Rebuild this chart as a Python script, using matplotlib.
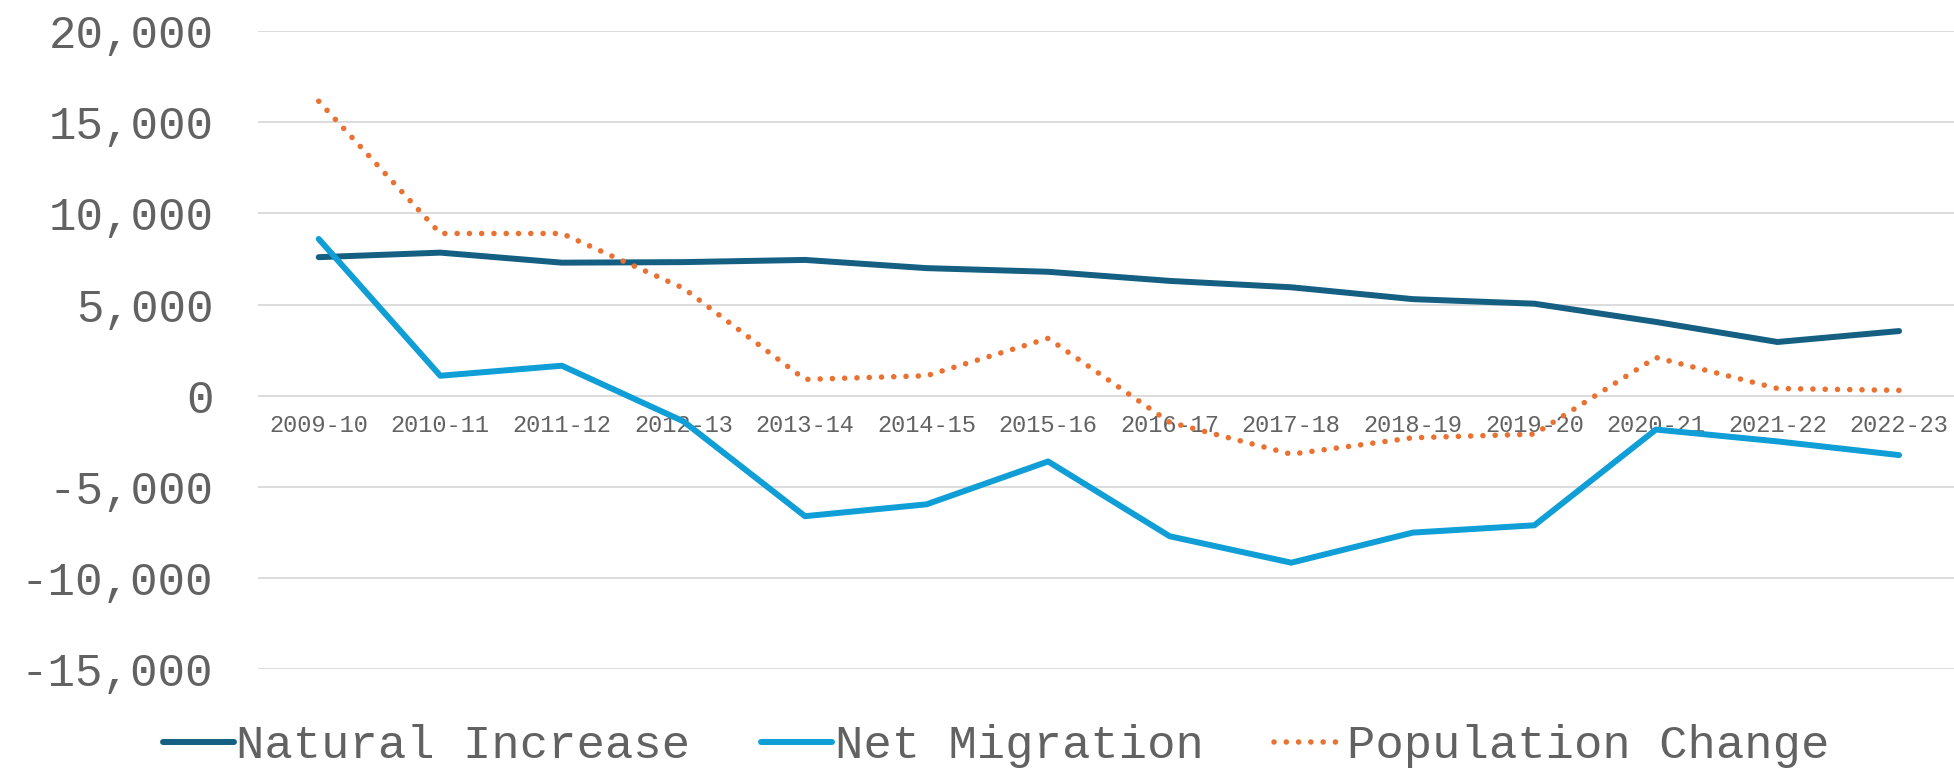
import matplotlib.pyplot as plt
from matplotlib.ticker import FuncFormatter

# Data
years = ["2009-10", "2010-11", "2011-12", "2012-13", "2013-14", "2014-15", "2015-16",
         "2016-17", "2017-18", "2018-19", "2019-20", "2020-21", "2021-22", "2022-23"]
natural_increase = [7600, 7850, 7300, 7330, 7450, 7000, 6800,
                    6300, 5950, 5300, 5050, 4050, 2950, 3550]
net_migration = [8600, 1100, 1650, -1400, -6600, -5950, -3600,
                 -7700, -9150, -7500, -7100, -1850, -2500, -3250]
population_change = [16150, 8900, 8900, 5900, 900, 1100, 3150,
                     -1450, -3200, -2300, -2100, 2100, 400, 300]

text_color = "#626262"
grid_color = "#D9D9D9"

plt.rcParams['font.family'] = ['Liberation Mono', 'DejaVu Sans Mono']

fig = plt.figure(figsize=(19.54, 7.68), dpi=100)
ax = fig.add_axes([0.132, 0.1284, 0.871, 0.8312])

x = list(range(len(years)))
ax.plot(x, natural_increase, color="#156082", lw=4.3, label="Natural Increase",
        solid_capstyle="round", solid_joinstyle="round", zorder=3)
ax.plot(x, net_migration, color="#0F9ED5", lw=4.3, label="Net Migration",
        solid_capstyle="round", solid_joinstyle="round", zorder=3)
ax.plot(x, population_change, color="#E97132", lw=4.0, label="Population Change",
        linestyle=(0, (0.01, 2.2)), dash_capstyle="round", zorder=3)

# axes / grid
ax.set_xlim(-0.5, len(years) - 0.5)
ax.set_ylim(-15000, 20000)
ax.set_yticks(range(-15000, 20001, 5000))
ax.yaxis.set_major_formatter(FuncFormatter(lambda v, p: f"{int(v):,}"))
ax.grid(axis="y", color=grid_color, lw=1.3)
ax.set_axisbelow(True)
for s in ["top", "right", "left"]:
    ax.spines[s].set_visible(False)
ax.spines["bottom"].set_position(("data", 0))
ax.spines["bottom"].set_visible(False)

ax.set_xticks(x)
ax.set_xticklabels(years)
ax.tick_params(axis="x", length=0, pad=13, labelsize=17, labelcolor=text_color)
ax.tick_params(axis="y", length=0, pad=32, labelsize=33, labelcolor=text_color)

leg = fig.legend(loc="center", bbox_to_anchor=(0.51, 0.028), ncol=3, frameon=False,
                 fontsize=34, handlelength=1.5, handletextpad=0.05,
                 columnspacing=1.5, borderaxespad=0)
for t in leg.get_texts():
    t.set_color(text_color)

fig.savefig("out.png", dpi=100)
